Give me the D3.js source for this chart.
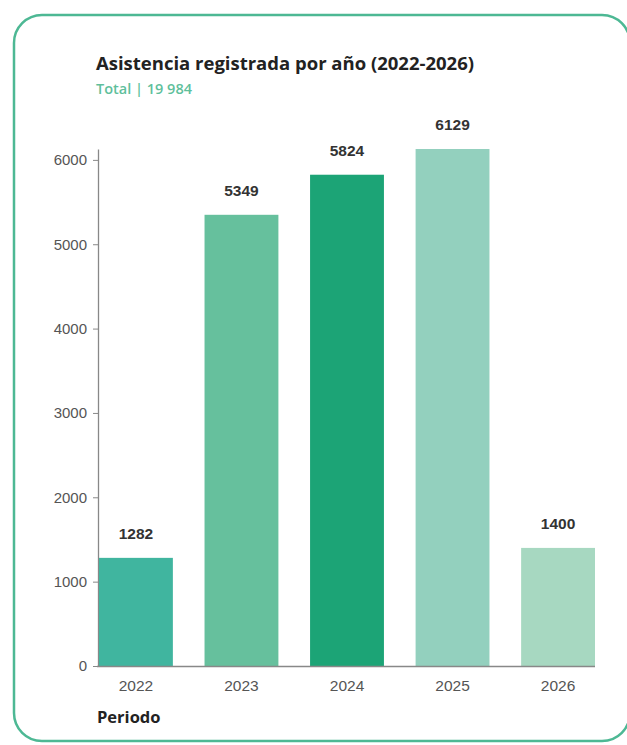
<!DOCTYPE html>
<html><head><meta charset="utf-8">
<script src="https://cdn.jsdelivr.net/npm/d3@7"></script>
<style>body{margin:0;background:#fff;}svg{display:block;font-family:"Liberation Sans",Arial,sans-serif;}</style>
</head><body>
<svg id="c" width="627" height="745"></svg>
<script>
const years = ["2022","2023","2024","2025","2026"];
const values = [1282, 5349, 5824, 6129, 1400];
const colors = ["#40b59f","#66c09d","#1ca476","#93d0be","#a7d8c1"];
const yTicks = [0,1000,2000,3000,4000,5000,6000];
const title = "Asistencia registrada por año (2022-2026)";
const subtitle = "Total | 19 984";
const xTitle = "Periodo";

const svg = d3.select("#c");
svg.append("rect").attr("x",14).attr("y",15).attr("width",616).attr("height",726)
  .attr("rx",28).attr("fill","#fff").attr("stroke","#4db894").attr("stroke-width",2.5);

svg.append("text").attr("x",96).attr("y",70).text(title)
  .attr("font-family","Open Sans, sans-serif").attr("font-weight","bold").attr("font-size",18.5).attr("fill","#222");
svg.append("text").attr("x",96).attr("y",94).text(subtitle)
  .attr("font-family","Open Sans, sans-serif").attr("font-weight","600").attr("font-size",14.5).attr("fill","#5fbf9c");

const x = d3.scaleBand().domain(years).range([99,595]).paddingInner(0.3).paddingOuter(0);
const y = d3.scaleLinear().domain([0,6129]).range([666,149]);

const gy = svg.append("g").attr("transform","translate(98,0)")
  .call(d3.axisLeft(y).tickValues(yTicks).tickFormat(d3.format("d")).tickSize(5).tickSizeOuter(0).tickPadding(6));
gy.select(".domain").attr("stroke","#888").attr("stroke-width",1.3);
gy.selectAll(".tick line").attr("stroke","#888");
gy.selectAll("text").attr("font-size",15).attr("fill","#555").attr("font-family","Liberation Sans, Arial, sans-serif");

svg.selectAll("rect.bar").data(values).enter().append("rect").attr("class","bar")
  .attr("x",(d,i)=>x(years[i])).attr("width",x.bandwidth())
  .attr("y",d=>y(d)).attr("height",d=>y(0)-y(d)).attr("fill",(d,i)=>colors[i]);

const gx = svg.append("g").attr("transform","translate(0,666)")
  .call(d3.axisBottom(x).tickSize(0).tickPadding(14));
gx.select(".domain").attr("stroke","#888").attr("stroke-width",1.3).attr("d","M97,0.5H595");
gx.selectAll("text").attr("font-size",15.5).attr("fill","#555").attr("font-family","Liberation Sans, Arial, sans-serif");

svg.selectAll("text.val").data(values).enter().append("text").attr("class","val")
  .attr("x",(d,i)=>x(years[i])+x.bandwidth()/2).attr("y",d=>y(d)-19)
  .attr("text-anchor","middle").attr("font-size",15.5).attr("font-weight","bold").attr("fill","#333")
  .text(d=>d);

svg.append("text").attr("x",97).attr("y",723).text(xTitle)
  .attr("font-family","Open Sans, sans-serif").attr("font-weight","bold").attr("font-size",16.5).attr("fill","#222");
</script>
</body></html>
